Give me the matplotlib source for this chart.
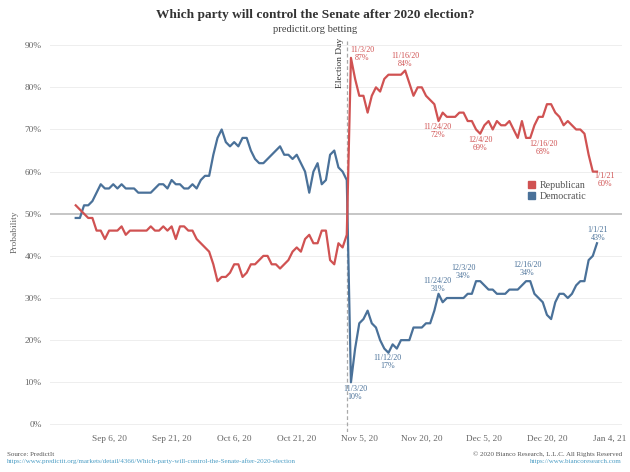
import pandas as pd
import matplotlib
matplotlib.use('Agg')
import matplotlib.pyplot as plt
import matplotlib.dates as mdates
from matplotlib.patches import Patch
import matplotlib.transforms as mtransforms

# ==============================
# DATA (daily PredictIt prices, %)
# ==============================
dates = pd.date_range('2020-08-29', '2021-01-01', freq='D')

republican = [
    52, 51, 50, 49, 49, 46, 46, 44, 46, 46, 46, 47, 45, 46, 46, 46, 46, 46, 47, 46,
    46, 47, 46, 47, 44, 47, 47, 46, 46, 44, 43, 42, 41, 38, 34, 35, 35, 36, 38, 38,
    35, 36, 38, 38, 39, 40, 40, 38, 38, 37, 38, 39, 41, 42, 41, 44, 45, 43, 43, 46,
    46, 39, 38, 43, 42, 45,
    87, 82, 78, 78, 74, 78, 80, 79, 82, 83, 83, 83, 83, 84, 81, 78, 80, 80, 78, 77,
    76, 72, 74, 73, 73, 73, 74, 74, 72, 72, 70, 69, 71, 72, 70, 72, 71, 71, 72, 70,
    68, 72, 68, 68, 71, 73, 73, 76, 76, 74, 73, 71, 72, 71, 70, 70, 69, 64, 60, 60,
]

democratic = [
    49, 49, 52, 52, 53, 55, 57, 56, 56, 57, 56, 57, 56, 56, 56, 55, 55, 55, 55, 56,
    57, 57, 56, 58, 57, 57, 56, 56, 57, 56, 58, 59, 59, 64, 68, 70, 67, 66, 67, 66,
    68, 68, 65, 63, 62, 62, 63, 64, 65, 66, 64, 64, 63, 64, 62, 60, 55, 60, 62, 57,
    58, 64, 65, 61, 60, 58,
    10, 18, 24, 25, 27, 24, 23, 20, 18, 17, 19, 18, 20, 20, 20, 23, 23, 23, 24, 24,
    27, 31, 29, 30, 30, 30, 30, 30, 31, 31, 34, 34, 33, 32, 32, 31, 31, 31, 32, 32,
    32, 33, 34, 34, 31, 30, 29, 26, 25, 29, 31, 31, 30, 31, 33, 34, 34, 39, 40, 43,
]

tick_dates = ['2020-09-06', '2020-09-21', '2020-10-06', '2020-10-21', '2020-11-05',
              '2020-11-20', '2020-12-05', '2020-12-20', '2021-01-04']
tick_labels = ['Sep 6, 20', 'Sep 21, 20', 'Oct 6, 20', 'Oct 21, 20', 'Nov 5, 20',
               'Nov 20, 20', 'Dec 5, 20', 'Dec 20, 20', 'Jan 4, 21']
y_ticks = [0, 10, 20, 30, 40, 50, 60, 70, 80, 90]
election_day = '2020-11-02'

# annotated points
rep_notes = ['2020-11-03', '2020-11-16', '2020-11-24', '2020-12-04', '2020-12-16', '2021-01-01']
dem_notes = ['2020-11-03', '2020-11-12', '2020-11-24', '2020-12-03', '2020-12-16', '2021-01-01']

# ==============================
# STYLE
# ==============================
RED = '#d05252'
BLUE = '#4a7199'
plt.rcParams['font.family'] = ['Liberation Serif', 'DejaVu Serif']

fig = plt.figure(figsize=(6.3, 4.72), dpi=100)
ax = fig.add_axes([50 / 630, 1 - 432 / 472, 572 / 630, 391 / 472])

rep = pd.Series(republican, index=dates) / 100
dem = pd.Series(democratic, index=dates) / 100

# gridlines + 50% line
for v in y_ticks:
    ax.axhline(v / 100, color='#eeeeee', lw=0.7, zorder=0)
ax.axhline(0.5, color='#c6c6c6', lw=1.4, zorder=1)

ax.axvline(pd.Timestamp(election_day), color='#aaaaaa', lw=0.9,
           linestyle=(0, (3, 2)), zorder=1)

ax.plot(dem.index, dem.values, color=BLUE, lw=1.6, zorder=3)
ax.plot(rep.index, rep.values, color=RED, lw=1.6, zorder=4)

# axes ranges / ticks
ax.set_xlim(pd.Timestamp('2020-08-22 20:00'), pd.Timestamp('2021-01-07'))
ax.set_ylim(-0.018, 0.91)
ax.set_xticks([pd.Timestamp(d) for d in tick_dates])
ax.set_xticklabels(tick_labels)
ax.set_yticks([v / 100 for v in y_ticks])
ax.set_yticklabels([f'{v}%' for v in y_ticks])
ax.tick_params(axis='both', length=0, labelsize=6.7, colors='#666666')
ax.tick_params(axis='x', pad=2)
ax.tick_params(axis='y', pad=6)
for s in ax.spines.values():
    s.set_visible(False)

# Election Day label
trans = mtransforms.blended_transform_factory(ax.transData, ax.transAxes)
ax.text(pd.Timestamp(election_day) - pd.Timedelta(hours=14), 1.008, 'Election Day',
        transform=trans, rotation=90, ha='right', va='top', fontsize=6.8, color='#333333')

# ==============================
# ANNOTATIONS
# ==============================
rep_offsets = [(11, 4), (0, 10.5), (-1, -9.5), (0, -10), (13, -10.5), (8, -8)]
dem_offsets = [(4, -10.5), (-1, -9), (-1, 9), (-13, 9), (-3, 12), (1, 9.5)]


def note(series, day, off, color):
    t = pd.Timestamp(day)
    v = series[t]
    label = f'{t.month}/{t.day}/{t.strftime("%y")}\n{round(v * 100)}%'
    ax.annotate(label, (t, v), xytext=off, textcoords='offset pixels',
                ha='center', va='center', fontsize=5.8, color=color,
                linespacing=1.0, zorder=5)


for d, o in zip(rep_notes, rep_offsets):
    note(rep, d, o, RED)
for d, o in zip(dem_notes, dem_offsets):
    note(dem, d, o, BLUE)

# legend
handles = [Patch(color=RED, label='Republican'), Patch(color=BLUE, label='Democratic')]
ax.legend(handles=handles, loc='upper left', bbox_to_anchor=(0.823, 0.660), frameon=False,
          fontsize=7.2, handlelength=0.7, handleheight=0.7, handletextpad=0.5,
          labelspacing=0.25, borderpad=0.2, labelcolor='#555555')

# ==============================
# TITLES / FOOTER
# ==============================
fig.text(0.5, 1 - 15 / 472, 'Which party will control the Senate after 2020 election?',
         ha='center', va='center', fontsize=9.6, fontweight='bold', color='#333333')
fig.text(0.5, 1 - 29 / 472, 'predictit.org betting', ha='center', va='center',
         fontsize=7.6, color='#444444')
fig.text(15 / 630, 1 - 232 / 472, 'Probability', rotation=90, ha='center', va='center',
         fontsize=6.8, color='#666666')

fig.text(7 / 630, 1 - 454 / 472, 'Source: PredictIt', ha='left', va='center',
         fontsize=5, color='#555555')
fig.text(7 / 630, 1 - 461 / 472,
         'https://www.predictit.org/markets/detail/4366/Which-party-will-control-the-Senate-after-2020-election',
         ha='left', va='center', fontsize=5, color='#4a9cc4')
fig.text(622 / 630, 1 - 454 / 472, '\u00a9 2020 Bianco Research, L.L.C. All Rights Reserved',
         ha='right', va='center', fontsize=5, color='#555555')
fig.text(622 / 630, 1 - 461 / 472, 'https://www.biancoresearch.com', ha='right', va='center',
         fontsize=5, color='#4a9cc4')

fig.savefig('out.png', dpi=100, facecolor='white')
plt.close(fig)
